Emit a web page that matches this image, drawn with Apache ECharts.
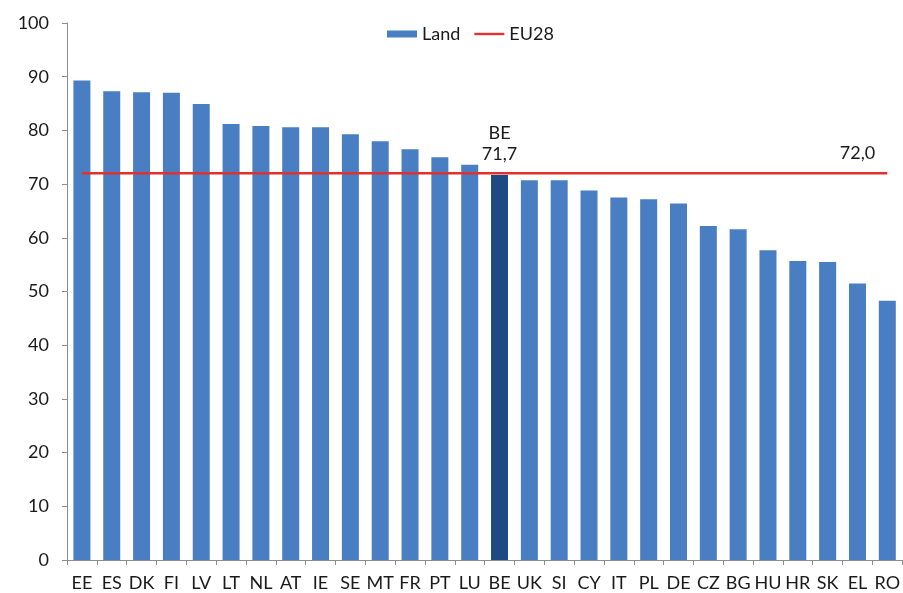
<!DOCTYPE html>
<html>
<head>
<meta charset="utf-8">
<script src="https://cdn.jsdelivr.net/npm/echarts@6/dist/echarts.min.js"></script>
<style>
  html, body { margin: 0; padding: 0; background: #ffffff; }
  #chart { width: 903px; height: 593px; }
</style>
</head>
<body>
<div id="chart"></div>
<script>
// Country codes, left to right
const countries = ['EE', 'ES', 'DK', 'FI', 'LV', 'LT', 'NL', 'AT', 'IE', 'SE', 'MT', 'FR', 'PT', 'LU',
  'BE', 'UK', 'SI', 'CY', 'IT', 'PL', 'DE', 'CZ', 'BG', 'HU', 'HR', 'SK', 'EL', 'RO'];
// Value per country
const landValues = [89.3, 87.3, 87.1, 87.0, 84.9, 81.2, 80.8, 80.6, 80.6, 79.3, 78.0, 76.5, 75.0, 73.6,
  71.7, 70.7, 70.7, 68.8, 67.5, 67.2, 66.4, 62.2, 61.6, 57.7, 55.7, 55.5, 51.5, 48.3];
// EU28 average
const eu28Value = 72.0;
const highlightCountry = 'BE';
const eu28LabelCountry = 'EL';
const yTicks = { min: 0, max: 100, interval: 10 };

const fmt = v => v.toFixed(1).replace('.', ',');
const FONT = 'Lato, "Open Sans", sans-serif';
const TEXT = '#1a1a1a';
const AXIS = '#8c8c8c';

const barData = countries.map((c, i) => {
  if (c !== highlightCountry) return landValues[i];
  return {
    value: landValues[i],
    itemStyle: { color: '#1d4a82' },
    label: {
      show: true,
      position: 'top',
      distance: 10,
      formatter: p => c + '\n' + fmt(p.value),
      fontFamily: FONT,
      fontSize: 18,
      lineHeight: 21,
      color: TEXT
    }
  };
});

const euLine = countries.map(() => eu28Value);
const euLabelIdx = countries.indexOf(eu28LabelCountry);

const chart = echarts.init(document.getElementById('chart'), null, { renderer: 'canvas' });
chart.setOption({
  backgroundColor: '#ffffff',
  animation: false,
  legend: {
    data: [
      { name: 'Land', icon: 'rect' },
      // thin horizontal stroke inside a 30x7 box
      { name: 'EU28', icon: 'path://M0,0 L0,0 M0,2.3 L30,2.3 L30,4.7 L0,4.7 Z M30,7 L30,7' }
    ],
    left: 382,
    top: 20,
    itemWidth: 30,
    itemHeight: 7,
    itemGap: 14,
    textStyle: { fontFamily: FONT, fontSize: 18, color: TEXT }
  },
  grid: { left: 67, top: 23, width: 840, height: 537, containLabel: false },
  xAxis: {
    type: 'category',
    data: countries,
    boundaryGap: true,
    axisLine: { lineStyle: { color: AXIS, width: 1 } },
    axisTick: { show: true, length: 5, alignWithLabel: false, lineStyle: { color: AXIS } },
    axisLabel: { interval: 0, margin: 14, fontFamily: FONT, fontSize: 18, color: TEXT },
    splitLine: { show: false }
  },
  yAxis: {
    type: 'value',
    min: yTicks.min,
    max: yTicks.max,
    interval: yTicks.interval,
    axisLine: { show: true, lineStyle: { color: AXIS, width: 1 } },
    axisTick: { show: true, length: 5, lineStyle: { color: AXIS } },
    axisLabel: { margin: 18, fontFamily: FONT, fontSize: 18, color: TEXT },
    splitLine: { show: false }
  },
  series: [
    {
      name: 'Land',
      type: 'bar',
      data: barData,
      barWidth: 17,
      itemStyle: { color: '#4a7ec2' },
      z: 2
    },
    {
      name: 'EU28',
      type: 'line',
      data: euLine,
      symbol: 'none',
      lineStyle: { color: '#e0312f', width: 2.5 },
      itemStyle: { color: '#e0312f' },
      z: 3
    },
    {
      name: 'EU28 label',
      type: 'scatter',
      data: [[euLabelIdx, eu28Value]],
      symbolSize: 0,
      silent: true,
      itemStyle: { opacity: 1 },
      label: {
        show: true,
        position: 'top',
        distance: 11,
        formatter: p => fmt(p.value[1]),
        fontFamily: FONT,
        fontSize: 18,
        color: TEXT
      },
      z: 4
    }
  ]
});
</script>
</body>
</html>
